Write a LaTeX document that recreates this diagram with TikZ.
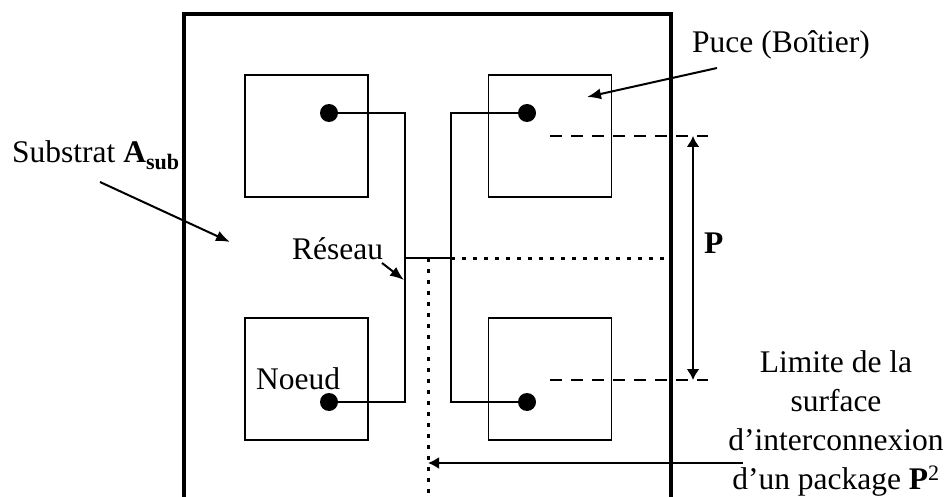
\documentclass[tikz,border=0pt]{standalone}
\usepackage{fontspec}
\setmainfont{Liberation Serif}
\usetikzlibrary{arrows.meta}
\begin{document}
\begin{tikzpicture}[x=1pt,y=-1pt,
  chip/.style={draw, line width=1.7pt, minimum width=123pt, minimum height=122pt, inner sep=0pt},
  pin/.style={circle, fill, inner sep=0pt, minimum size=18pt},
  wire/.style={line width=2.4pt},
  substrate/.style={line width=4.5pt},
  lbl/.style={font=\fontsize{31.5}{39}\selectfont, inner sep=0pt},
  pointer/.style={line width=2pt, -{Latex[length=14pt,width=11pt]}},
  dimline/.style={line width=2pt, {Latex[length=11pt,width=13pt]}-{Latex[length=11pt,width=13pt]}},
  dashline/.style={line width=2.5pt, dash pattern=on 12pt off 9pt},
  dotline/.style={line width=3pt, dash pattern=on 4pt off 7pt}
]
\useasboundingbox (0,0) rectangle (945,497);

% substrate outline (open at the bottom)
\coordinate (sbl) at (184,497);
\coordinate (stl) at (184,14);
\coordinate (str) at (671,14);
\coordinate (sbr) at (671,497);
\draw[substrate] (sbl) -- (stl) -- (str) -- (sbr);

% chips
\node[chip] (c1) at (306.5,136) {};
\node[chip] (c2) at (550,136) {};
\node[chip] (c3) at (306.5,379) {};
\node[chip] (c4) at (550,379) {};

% net
\coordinate (jl) at (405,258);
\coordinate (jr) at (451,258);
\coordinate (p1) at (329,113);
\coordinate (p2) at (527,113);
\coordinate (p3) at (329,402);
\coordinate (p4) at (527,402);
\draw[wire] (p1) -| (jl) |- (p3);
\draw[wire] (p2) -| (jr) |- (p4);
\draw[wire] (jl) -- (jr);
\node[pin] (n1) at (p1) {};
\node[pin] (n2) at (p2) {};
\node[pin] (n3) at (p3) {};
\node[pin] (n4) at (p4) {};

% interconnection surface boundaries
\coordinate (dh) at (669,258);
\coordinate (dv1) at (428,258);
\coordinate (dv2) at (428,497);
\draw[dotline] (jr) -- (dh);
\draw[dotline] (dv1) -- (dv2);

% pitch P
\coordinate (d1) at (708,136);
\coordinate (d2) at (708,380);
\draw[dashline] (c2.center) -- (d1);
\draw[dashline] (550,380) -- (d2);
\coordinate (pa) at (693,136);
\coordinate (pb) at (693,380);
\draw[dimline] (pa) -- (pb);
\node[lbl, anchor=base west, font=\fontsize{31.5}{39}\selectfont\bfseries] (plbl) at (704,253) {P};

% labels
\node[lbl, anchor=base west] (sub) at (12,163) {Substrat \textbf{A}\textsubscript{\textbf{sub}}};
\coordinate (subtip) at (230,242);
\draw[pointer] (100,182) -- (subtip);

\node[lbl, anchor=base west] (puce) at (692,53) {Puce (Boîtier)};
\coordinate (pucetip) at (587,97);
\draw[pointer] (717,68) -- (pucetip);

\node[lbl, anchor=base west] (res) at (292,259) {Réseau};
\coordinate (restip) at (404,280);
\draw[pointer] (382,263) -- (restip);

\node[lbl, anchor=base west] (noeud) at (256,389) {Noeud};

\node[lbl, anchor=north, align=center] (lim) at (836,350)
  {Limite de la\\surface\\d’interconnexion\\d’un package \textbf{P}\textsuperscript{2}};
\coordinate (limtail) at (743,463);
\draw[pointer, -{Latex[length=11pt,width=12pt]}] (limtail) -- (dv1 |- limtail);
\end{tikzpicture}
\end{document}
